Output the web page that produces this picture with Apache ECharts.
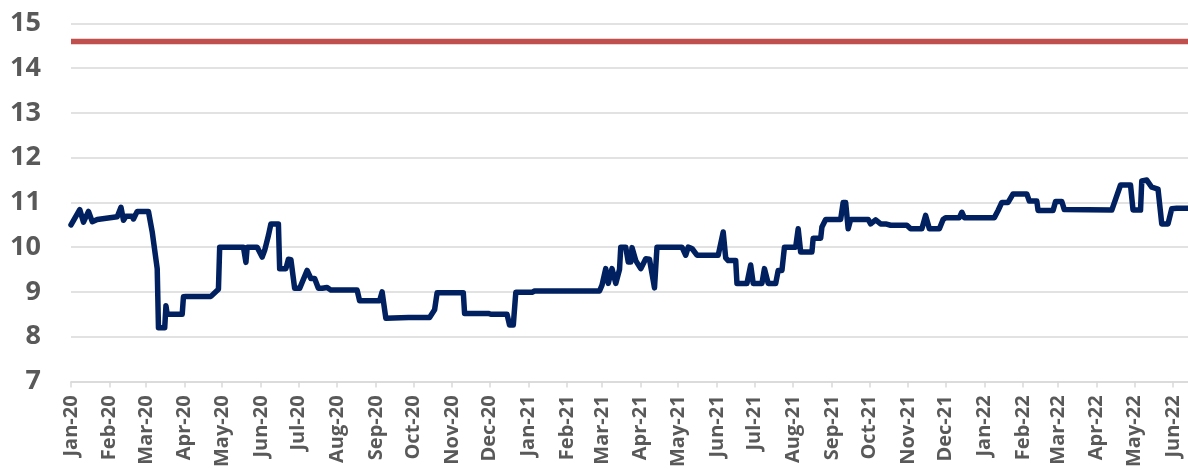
<!DOCTYPE html>
<html>
<head>
<meta charset="utf-8">
<script src="https://cdn.jsdelivr.net/npm/echarts@6/dist/echarts.min.js"></script>
<style>
  html, body { margin: 0; padding: 0; background: #fff; }
  #chart { width: 1188px; height: 470px; }
</style>
</head>
<body>
<div id="chart"></div>
<script>
const monthNames = ['Jan', 'Feb', 'Mar', 'Apr', 'May', 'Jun', 'Jul', 'Aug', 'Sep', 'Oct', 'Nov', 'Dec']

// vertices of the blue series (date, value)
const rateDates = [
  '2020-01-01', '2020-01-08', '2020-01-11', '2020-01-15', '2020-01-18', '2020-01-22', '2020-02-07',
  '2020-02-10', '2020-02-12', '2020-02-14', '2020-02-19', '2020-02-20', '2020-02-23', '2020-03-03',
  '2020-03-06', '2020-03-10', '2020-03-11', '2020-03-16', '2020-03-17', '2020-03-18', '2020-03-30',
  '2020-03-31', '2020-04-02', '2020-04-22', '2020-04-28', '2020-04-29', '2020-05-18', '2020-05-20',
  '2020-05-21', '2020-05-29', '2020-06-02', '2020-06-04', '2020-06-07', '2020-06-09', '2020-06-15',
  '2020-06-16', '2020-06-21', '2020-06-23', '2020-06-25', '2020-06-28', '2020-07-02', '2020-07-08',
  '2020-07-11', '2020-07-14', '2020-07-17', '2020-07-20', '2020-07-24', '2020-07-27', '2020-08-17',
  '2020-08-19', '2020-09-04', '2020-09-06', '2020-09-09', '2020-09-27', '2020-10-14', '2020-10-18',
  '2020-10-20', '2020-11-10', '2020-11-11', '2020-11-30', '2020-12-02', '2020-12-15', '2020-12-17',
  '2020-12-20', '2020-12-22', '2021-01-04', '2021-01-06', '2021-02-27', '2021-03-01', '2021-03-04',
  '2021-03-06', '2021-03-09', '2021-03-12', '2021-03-15', '2021-03-16', '2021-03-20', '2021-03-22',
  '2021-03-24', '2021-03-25', '2021-03-28', '2021-04-01', '2021-04-05', '2021-04-08', '2021-04-12',
  '2021-04-14', '2021-05-04', '2021-05-07', '2021-05-09', '2021-05-12', '2021-05-16', '2021-06-02',
  '2021-06-06', '2021-06-08', '2021-06-10', '2021-06-16', '2021-06-17', '2021-06-25', '2021-06-28',
  '2021-06-30', '2021-07-07', '2021-07-09', '2021-07-12', '2021-07-18', '2021-07-20', '2021-07-23',
  '2021-07-25', '2021-08-03', '2021-08-05', '2021-08-07', '2021-08-16', '2021-08-17', '2021-08-23',
  '2021-08-24', '2021-08-27', '2021-09-08', '2021-09-10', '2021-09-12', '2021-09-14', '2021-09-16',
  '2021-09-30', '2021-10-02', '2021-10-06', '2021-10-10', '2021-10-14', '2021-10-18', '2021-10-31',
  '2021-11-03', '2021-11-12', '2021-11-15', '2021-11-18', '2021-11-26', '2021-11-29', '2021-12-01',
  '2021-12-12', '2021-12-14', '2021-12-16', '2022-01-09', '2022-01-12', '2022-01-15', '2022-01-20',
  '2022-01-24', '2022-02-04', '2022-02-06', '2022-02-12', '2022-02-13', '2022-02-25', '2022-02-27',
  '2022-03-04', '2022-03-06', '2022-04-13', '2022-04-20', '2022-04-28', '2022-04-30', '2022-05-06',
  '2022-05-07', '2022-05-11', '2022-05-15', '2022-05-20', '2022-05-23', '2022-05-28', '2022-05-31',
  '2022-06-04', '2022-06-13'
]
const rateValues = [
  10.5, 10.84, 10.56, 10.8, 10.57, 10.62, 10.68,
  10.89, 10.6, 10.69, 10.69, 10.63, 10.8, 10.8,
  10.34, 9.52, 8.2, 8.2, 8.69, 8.5, 8.5,
  8.89, 8.9, 8.9, 9.06, 10.0, 10.0, 9.66,
  10.0, 10.0, 9.78, 9.93, 10.26, 10.52, 10.52,
  9.52, 9.52, 9.73, 9.72, 9.08, 9.08, 9.48,
  9.3, 9.3, 9.08, 9.08, 9.1, 9.04, 9.04,
  8.8, 8.8, 9.0, 8.41, 8.43, 8.43, 8.6,
  8.98, 8.98, 8.52, 8.52, 8.5, 8.5, 8.26,
  8.26, 8.99, 8.99, 9.02, 9.02, 9.15, 9.52,
  9.19, 9.52, 9.19, 9.5, 10.0, 10.0, 9.67,
  9.67, 9.99, 9.7, 9.52, 9.74, 9.73, 9.09,
  10.0, 10.0, 9.82, 10.0, 9.97, 9.82, 9.82,
  10.34, 9.76, 9.7, 9.7, 9.19, 9.19, 9.6,
  9.19, 9.19, 9.52, 9.19, 9.19, 9.48, 9.48,
  10.0, 10.0, 10.41, 9.89, 9.89, 10.2, 10.2,
  10.45, 10.62, 10.62, 11.0, 11.0, 10.41, 10.62,
  10.62, 10.52, 10.61, 10.52, 10.52, 10.49, 10.49,
  10.41, 10.41, 10.71, 10.41, 10.41, 10.62, 10.66,
  10.66, 10.78, 10.66, 10.66, 10.82, 11.0, 11.0,
  11.19, 11.19, 11.03, 11.03, 10.82, 10.82, 11.02,
  11.02, 10.84, 10.83, 11.39, 11.39, 10.83, 10.83,
  11.48, 11.5, 11.34, 11.3, 10.52, 10.52, 10.86,
  10.87, 10.87
]

// red reference level
const limitDates = ['2020-01-01', '2022-06-13']
const limitValues = [14.6, 14.6]

const yMin = 7
const yMax = 15

const zip = (xs, ys) => xs.map((x, i) => [x, ys[i]])

const chart = echarts.init(document.getElementById('chart'))

chart.setOption({
  animation: false,
  grid: { left: 71, right: 0, top: 23.5, bottom: 86.5, containLabel: false },
  xAxis: {
    type: 'time',
    min: '2020-01-01',
    max: '2022-06-13',
    minInterval: 28 * 86400000,
    maxInterval: 31 * 86400000,
    splitLine: { show: false },
    axisLine: { lineStyle: { color: '#d9d9d9', width: 1.5 } },
    axisTick: { show: true, length: 6, lineStyle: { color: '#d9d9d9', width: 1.5 } },
    axisLabel: {
      rotate: 90,
      margin: 14,
      color: '#595959',
      fontFamily: 'Open Sans',
      fontWeight: 'bold',
      fontSize: 20,
      formatter: (val) => {
        const d = new Date(val)
        return monthNames[d.getMonth()] + '-' + String(d.getFullYear()).slice(2)
      }
    }
  },
  yAxis: {
    type: 'value',
    min: yMin,
    max: yMax,
    interval: 1,
    axisLine: { show: false },
    axisTick: { show: false },
    splitLine: { lineStyle: { color: '#d9d9d9', width: 1.5 } },
    axisLabel: {
      margin: 30,
      color: '#595959',
      fontFamily: 'Open Sans',
      fontWeight: 'bold',
      fontSize: 27
    }
  },
  series: [
    {
      name: 'limit',
      type: 'line',
      data: zip(limitDates, limitValues),
      symbol: 'none',
      lineStyle: { color: '#c0504d', width: 5.5 }
    },
    {
      name: 'rate',
      type: 'line',
      data: zip(rateDates, rateValues),
      symbol: 'none',
      lineStyle: { color: '#002060', width: 5.5, cap: 'round', join: 'round' }
    }
  ]
})
</script>
</body>
</html>
